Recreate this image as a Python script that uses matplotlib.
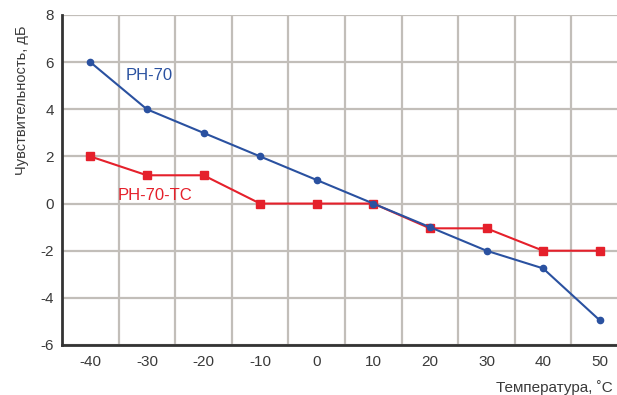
import matplotlib
matplotlib.use('Agg')
import matplotlib.pyplot as plt
from matplotlib.ticker import FixedLocator
from matplotlib import rcParams

# data
temps = [-40, -30, -20, -10, 0, 10, 20, 30, 40, 50]
ph70 = [6, 4, 3, 2, 1, 0, -1.0, -2.0, -2.75, -4.95]
ph70tc = [2, 1.2, 1.2, 0, 0, 0, -1.05, -1.05, -2, -2]
yticks = [-6, -4, -2, 0, 2, 4, 6, 8]

blue = '#2a51a0'
red = '#e5202b'
gridc = '#c2beb9'
textc = '#3a3a3a'

rcParams.update({'font.family': 'Liberation Sans',
                 'font.size': 11,
                 'axes.unicode_minus': False,
                 'text.color': textc,
                 'xtick.color': textc,
                 'ytick.color': textc})

fig = plt.figure(figsize=(6.17, 3.95), dpi=100)
ax = fig.add_axes([62/617, 1-345/395, (628-62)/617, 330/395])

ax.set_xlim(-45, 55)
ax.set_ylim(-6, 8)
ax.set_xticks(temps)
ax.set_yticks(yticks)
ax.xaxis.set_minor_locator(FixedLocator(range(-35, 56, 10)))
ax.tick_params(which='both', length=0)
ax.tick_params(axis='x', pad=7)
ax.tick_params(axis='y', pad=6)

ax.grid(which='minor', axis='x', color=gridc, lw=1.6)
ax.grid(which='major', axis='y', color=gridc, lw=1.6)
ax.set_axisbelow(True)

for s in ['top', 'right']:
    ax.spines[s].set_visible(False)
for s in ['left', 'bottom']:
    ax.spines[s].set_color('#333333')
    ax.spines[s].set_linewidth(2)
    ax.spines[s].set_zorder(5)

ax.plot(temps, ph70tc, color=red, lw=1.5, marker='s', ms=5.5, clip_on=False, zorder=3)
ax.plot(temps, ph70, color=blue, lw=1.5, marker='o', ms=4.5, clip_on=False, zorder=4)

ax.text(-33.7, 5.45, 'PH-70', color=blue, fontsize=12, va='center')
ax.text(-35.1, 0.35, 'PH-70-TC', color=red, fontsize=12, va='center')

fig.text(22/617, 1-100/395, 'Чувствительность, дБ', rotation=90,
         ha='center', va='center', fontsize=10.5)
fig.text(613/617, 1-388/395, 'Температура, ˚C', ha='right', va='center', fontsize=11)

fig.savefig('out.png', dpi=100)
